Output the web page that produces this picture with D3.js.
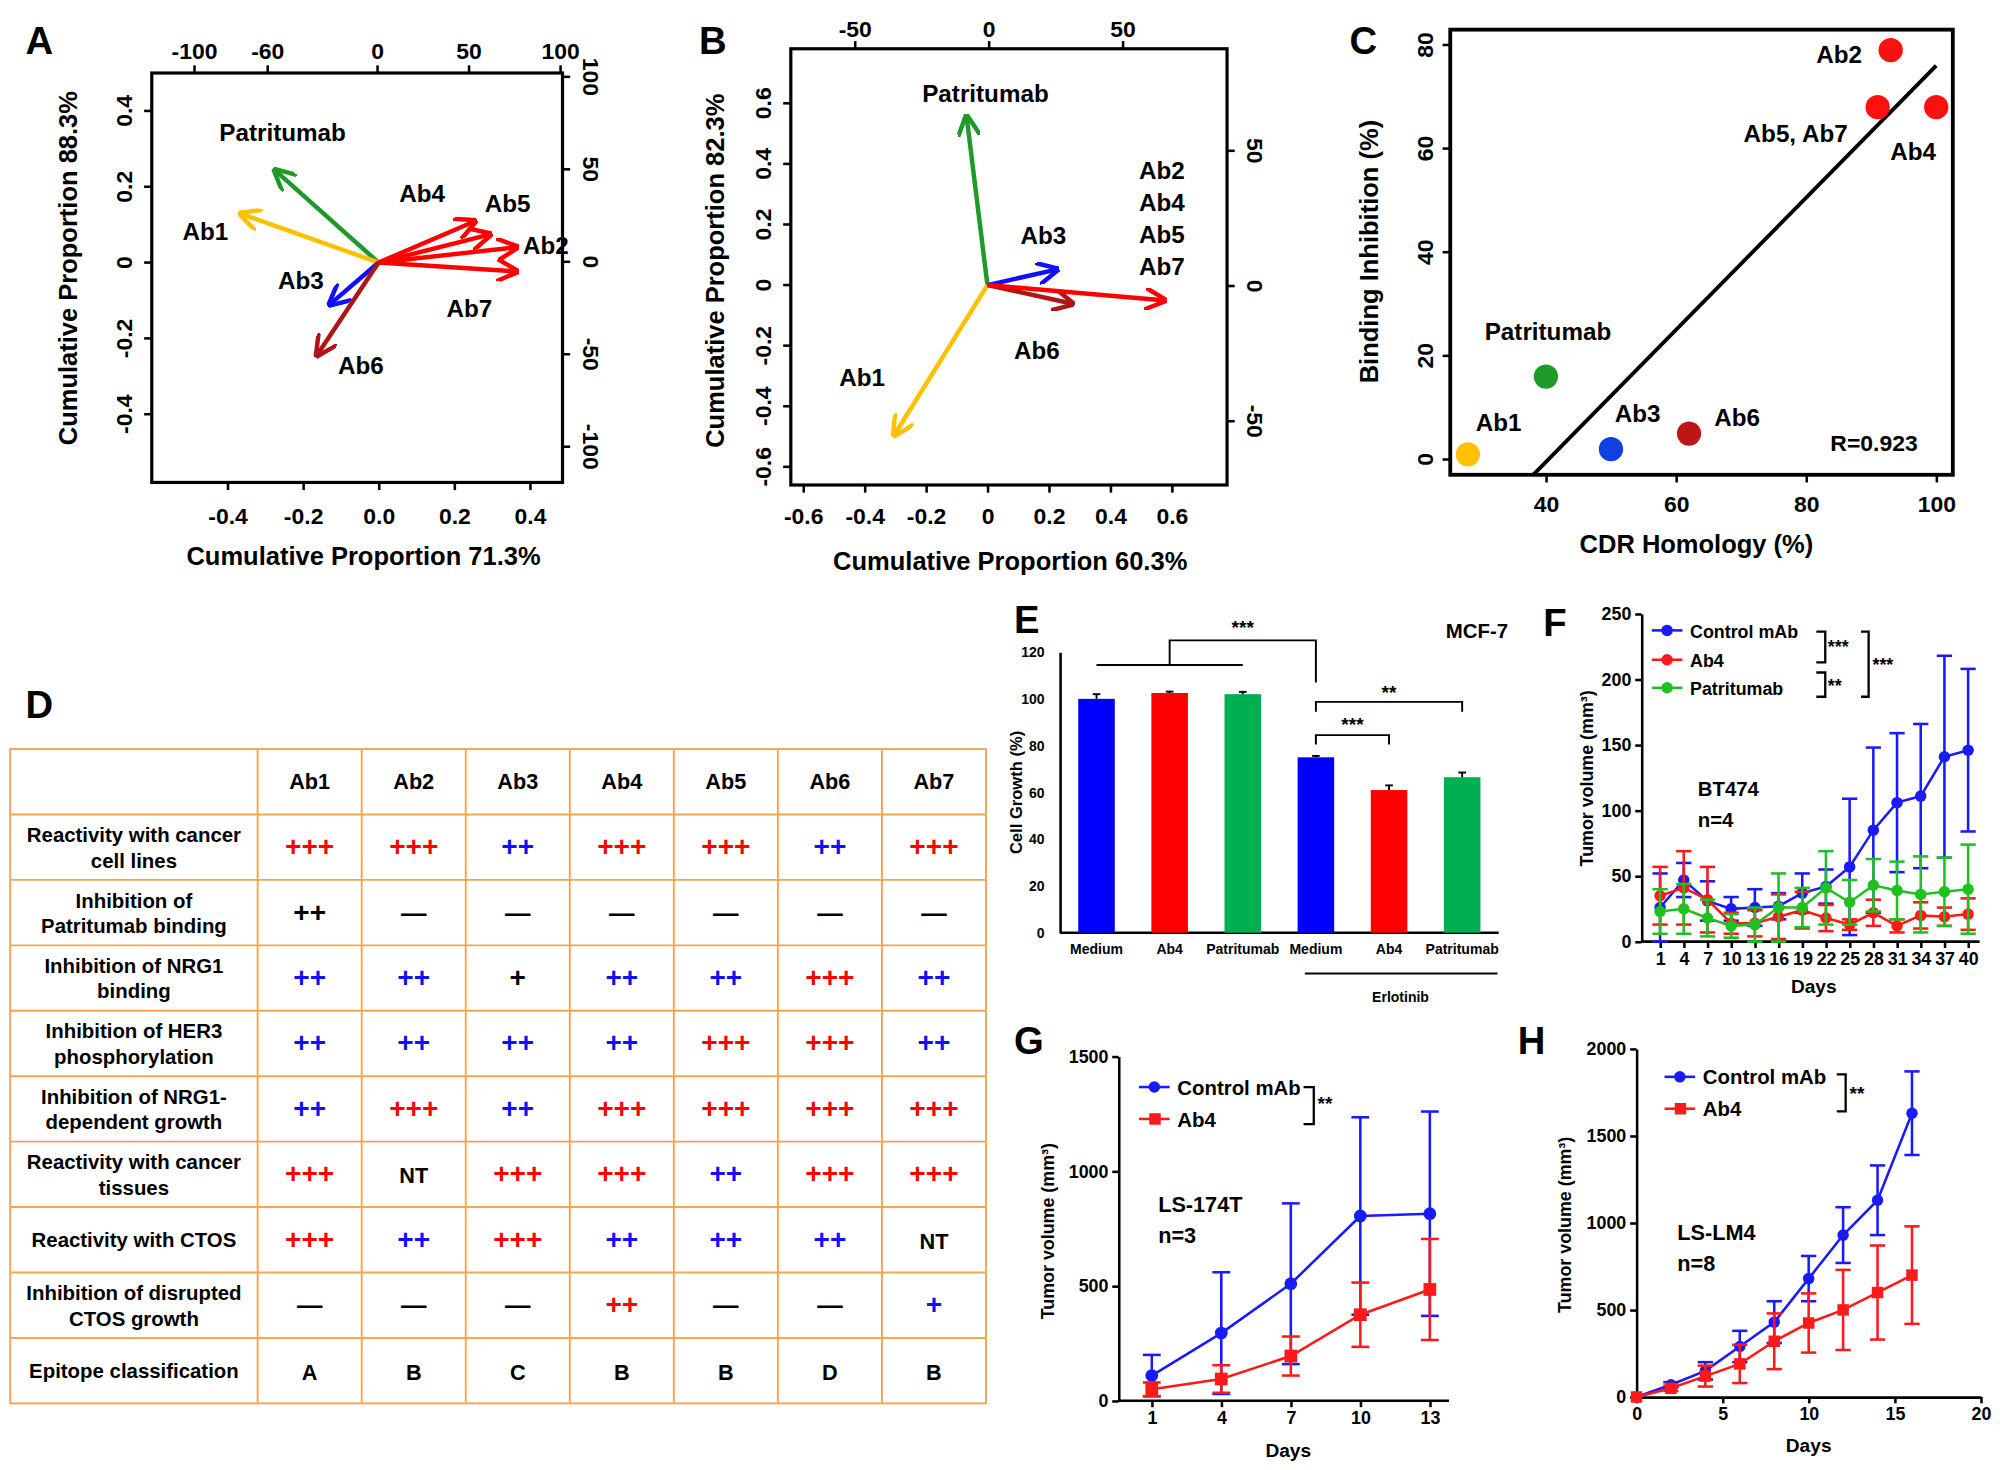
<!DOCTYPE html>
<html>
<head>
<meta charset="utf-8">
<style>
  body { margin:0; background:#fff; }
  text { font-family:"Liberation Sans", Arial, sans-serif; font-weight:bold; }
</style>
</head>
<body>
<script src="https://cdnjs.cloudflare.com/ajax/libs/d3/7.8.5/d3.min.js"></script>
<div id="vis"></div>
<script>
// ---- data ----
var pcaA = [
  {n:"Patritumab", x:-0.27, y:0.24, c:"#1f9a2a"},
  {n:"Ab1", x:-0.36, y:0.127, c:"#ffc000"},
  {n:"Ab3", x:-0.125, y:-0.107, c:"#1010ff"},
  {n:"Ab6", x:-0.16, y:-0.24, c:"#b01515"},
  {n:"Ab4", x:0.25, y:0.107, c:"#ff0000"},
  {n:"Ab5", x:0.29, y:0.073, c:"#ff0000"},
  {n:"Ab2", x:0.36, y:0.04, c:"#ff0000"},
  {n:"Ab7", x:0.36, y:-0.023, c:"#ff0000"}
];
var labelsA = [["Patritumab",172,110],["Ab1",143,188],["Ab3",218,226],["Ab6",265,293],["Ab4",313,158],["Ab5",380,166],["Ab2",410,199],["Ab7",350,248]];
var pcaB = [
  {n:"Patritumab", x:-0.067, y:0.55, c:"#1f9a2a"},
  {n:"Ab1", x:-0.3, y:-0.49, c:"#ffc000"},
  {n:"Ab3", x:0.22, y:0.05, c:"#1010ff"},
  {n:"Ab6", x:0.27, y:-0.06, c:"#b01515"},
  {n:"Ab2", x:0.57, y:-0.05, c:"#ff0000"}
];
var labelsB = [["Patritumab",723,80],["Ab1",658,302],["Ab3",800,191],["Ab6",795,281],["Ab2",893,140],["Ab4",893,165],["Ab5",893,190],["Ab7",893,215]];
var ptsC = [
  {n:"Ab1", x:28, y:1, c:"#ffc000"},
  {n:"Patritumab", x:40, y:16, c:"#1f9a2a"},
  {n:"Ab3", x:50, y:2, c:"#1040e0"},
  {n:"Ab6", x:62, y:5, c:"#c01515"},
  {n:"Ab2", x:93, y:79, c:"#ff1010"},
  {n:"Ab5, Ab7", x:91, y:68, c:"#ff1010"},
  {n:"Ab4", x:100, y:68, c:"#ff1010"}
];
var labelsC = [["Ab1",1157,338],["Patritumab",1164,266],["Ab3",1266,331],["Ab6",1344,334],["Ab2",1424,49],["Ab5, Ab7",1367,111],["Ab4",1482,125]];
var fitC = [[38,-3],[100,76]];

var tableCols = ["Ab1","Ab2","Ab3","Ab4","Ab5","Ab6","Ab7"];
var tableRows = [
  ["Reactivity with cancer|cell lines", ["+++","+++","++","+++","+++","++","+++"]],
  ["Inhibition of|Patritumab binding", ["k++","—","—","—","—","—","—"]],
  ["Inhibition of NRG1|binding", ["++","++","k+","++","++","+++","++"]],
  ["Inhibition of HER3|phosphorylation", ["++","++","++","++","+++","+++","++"]],
  ["Inhibition of  NRG1-|dependent growth", ["++","+++","++","+++","+++","+++","+++"]],
  ["Reactivity with cancer|tissues", ["+++","NT","+++","+++","++","+++","+++"]],
  ["Reactivity with CTOS", ["+++","++","+++","++","++","++","NT"]],
  ["Inhibition of disrupted|CTOS growth", ["—","—","—","r++","—","—","+"]],
  ["Epitope classification", ["A","B","C","B","B","D","B"]]
];

var eCats = ["Medium","Ab4","Patritumab","Medium","Ab4","Patritumab"];
var eVals = [100,102.5,102,75,61,66.5];
var eErr = [2,0.6,1,0.6,2,2];
var eCol = ["#0000ff","#ff0000","#00b050","#0000ff","#ff0000","#00b050"];

var fDays = [1,4,7,10,13,16,19,22,25,28,31,34,37,40];
var fCtrl = [26,47,31,25,26,27,37,42,57,85,106,111,141,146];
var fCtrlE = [26,13,15,9,14,10,15,13,52,63,53,55,77,62];
var fAb4 = [35,41,32,14,14,19,24,18,13,22,12,20,19,21];
var fAb4E = [22,28,25,8,10,17,14,10,4,10,5,10,7,12];
var fPat = [23,25,18,12,13,26,26,41,30,43,39,36,38,40];
var fPatE = [17,19,14,9,13,26,15,28,17,20,22,29,26,34];

var gDays = [1,4,7,10,13];
var gCtrl = [110,295,510,805,815];
var gCtrlE = [90,265,350,430,445];
var gAb4 = [50,95,195,375,485];
var gAb4E = [30,60,85,140,220];

var hDays = [0,2,4,6,8,10,12,14,16];
var hCtrl = [0,70,150,290,430,680,930,1130,1630];
var hCtrlE = [0,15,50,90,120,130,160,200,240];
var hAb4 = [0,50,120,190,320,425,500,600,700];
var hAb4E = [0,15,60,110,160,170,230,270,280];

// ---- svg ----
var svg = d3.select("#vis").append("svg")
  .attr("width",2000).attr("height",1470)
  .attr("viewBox","0 0 1568 1152");

var defs = svg.append("defs");
function marker(col) {
  var id = "m" + col.replace("#","");
  if (defs.select("#"+id).empty()) {
    defs.append("marker").attr("id",id).attr("viewBox","0 0 10 10")
      .attr("refX",8).attr("refY",5).attr("markerWidth",5).attr("markerHeight",5)
      .attr("orient","auto-start-reverse")
      .append("path").attr("d","M0,0 L10,5 L0,10").attr("fill","none")
      .attr("stroke",col).attr("stroke-width",2);
  }
  return "url(#"+id+")";
}
function txt(x,y,s,size,anchor) {
  return svg.append("text").attr("x",x).attr("y",y).attr("font-size",size)
    .attr("text-anchor",anchor||"start").text(s);
}
function styleAxis(g,size) {
  g.selectAll("text").attr("font-size",size).attr("font-family","Liberation Sans, Arial").attr("font-weight","bold").attr("fill","#000")
    .text(function(){ return d3.select(this).text().replace("\u2212","-"); });
  g.selectAll("line,path").attr("stroke","#000").attr("stroke-width",2);
}
var f1 = function(d){ return d===0 ? "0" : d3.format(".1f")(d); };
var fi = d3.format("d");

// panel letters
[["A",20,42],["B",548,42],["C",1058,42],["D",20,563],["E",795,496],["F",1210,498],["G",795,826],["H",1190,826]]
  .forEach(function(l){ txt(l[1],l[2],l[0],30); });

// rotated-label vertical axis helper (labels rotated like the reference)
function rotLabels(g, scale, dx, ang) {
  g.selectAll(".tick").attr("transform","translate(0,0)");
  g.selectAll(".tick line").attr("y1",function(d){return scale(d);}).attr("y2",function(d){return scale(d);});
  g.selectAll("text").each(function(d){
    d3.select(this).attr("transform","translate("+dx+","+scale(d)+") rotate("+ang+")")
      .attr("x",0).attr("y",0).attr("dy","0.35em").attr("text-anchor","middle");
  });
}

// ---- A ----
(function(){
  var x = d3.scaleLinear().domain([-0.6,0.5]).range([119,445]);
  var y = d3.scaleLinear().domain([-0.58,0.5]).range([378,57]);
  var xt = d3.scaleLinear().domain([-100,100]).range([152,439]);
  var yr = d3.scaleLinear().domain([-100,100]).range([350,60]);
  svg.append("rect").attr("x",119).attr("y",57).attr("width",322).attr("height",321)
    .attr("fill","none").attr("stroke","#000").attr("stroke-width",2.5);
  var gb = svg.append("g").attr("transform","translate(0,378)")
    .call(d3.axisBottom(x).tickValues([-0.4,-0.2,0,0.2,0.4]).tickFormat(d3.format(".1f")).tickSize(6));
  gb.select(".domain").remove(); styleAxis(gb,18);
  gb.selectAll("text").attr("dy","1.3em");
  var gl = svg.append("g").attr("transform","translate(119,0)")
    .call(d3.axisLeft(y).tickValues([-0.4,-0.2,0,0.2,0.4]).tickFormat(f1).tickSize(6));
  gl.select(".domain").remove(); styleAxis(gl,18); rotLabels(gl,y,-22,-90);
  var gt = svg.append("g").attr("transform","translate(0,57)")
    .call(d3.axisTop(xt).tickValues([-100,-60,0,50,100]).tickSize(6));
  gt.select(".domain").remove(); styleAxis(gt,18);
  gt.selectAll("text").attr("dy","-0.1em");
  var gr = svg.append("g").attr("transform","translate(441,0)")
    .call(d3.axisRight(yr).tickValues([-100,-50,0,50,100]).tickSize(6));
  gr.select(".domain").remove(); styleAxis(gr,18); rotLabels(gr,yr,22,90);
  svg.selectAll(".arrA").data(pcaA).enter().append("line")
    .attr("x1",x(0)).attr("y1",y(0)).attr("x2",function(d){return x(d.x);}).attr("y2",function(d){return y(d.y);})
    .attr("stroke",function(d){return d.c;}).attr("stroke-width",3.5)
    .attr("marker-end",function(d){return marker(d.c);});
  labelsA.forEach(function(l){ txt(l[1],l[2],l[0],19); });
  txt(285,443,"Cumulative Proportion 71.3%",20,"middle");
  txt(60,210,"Cumulative Proportion 88.3%",20,"middle").attr("transform","rotate(-90,60,210)");
})();

// ---- B ----
(function(){
  var x = d3.scaleLinear().domain([-0.64,0.78]).range([620,962]);
  var y = d3.scaleLinear().domain([-0.66,0.78]).range([380,38]);
  var xt = d3.scaleLinear().domain([-50,50]).range([670,880]);
  var yr = d3.scaleLinear().domain([-50,50]).range([330,118]);
  svg.append("rect").attr("x",620).attr("y",38).attr("width",342).attr("height",342)
    .attr("fill","none").attr("stroke","#000").attr("stroke-width",2.5);
  var gb = svg.append("g").attr("transform","translate(0,380)")
    .call(d3.axisBottom(x).tickValues([-0.6,-0.4,-0.2,0,0.2,0.4,0.6]).tickFormat(f1).tickSize(6));
  gb.select(".domain").remove(); styleAxis(gb,18); gb.selectAll("text").attr("dy","1.2em");
  var gl = svg.append("g").attr("transform","translate(620,0)")
    .call(d3.axisLeft(y).tickValues([-0.6,-0.4,-0.2,0,0.2,0.4,0.6]).tickFormat(f1).tickSize(6));
  gl.select(".domain").remove(); styleAxis(gl,18); rotLabels(gl,y,-22,-90);
  var gt = svg.append("g").attr("transform","translate(0,38)")
    .call(d3.axisTop(xt).tickValues([-50,0,50]).tickSize(6));
  gt.select(".domain").remove(); styleAxis(gt,18);
  var gr = svg.append("g").attr("transform","translate(962,0)")
    .call(d3.axisRight(yr).tickValues([-50,0,50]).tickSize(6));
  gr.select(".domain").remove(); styleAxis(gr,18); rotLabels(gr,yr,22,90);
  svg.selectAll(".arrB").data(pcaB).enter().append("line")
    .attr("x1",x(0)).attr("y1",y(0)).attr("x2",function(d){return x(d.x);}).attr("y2",function(d){return y(d.y);})
    .attr("stroke",function(d){return d.c;}).attr("stroke-width",3.5)
    .attr("marker-end",function(d){return marker(d.c);});
  labelsB.forEach(function(l){ txt(l[1],l[2],l[0],19); });
  txt(792,447,"Cumulative Proportion 60.3%",20,"middle");
  txt(568,212,"Cumulative Proportion 82.3%",20,"middle").attr("transform","rotate(-90,568,212)");
})();

// ---- C ----
(function(){
  var x = d3.scaleLinear().domain([40,100]).range([1212,1518]);
  var y = d3.scaleLinear().domain([0,80]).range([360,35]);
  svg.append("rect").attr("x",1137).attr("y",23).attr("width",394).attr("height",349)
    .attr("fill","none").attr("stroke","#000").attr("stroke-width",3);
  var gb = svg.append("g").attr("transform","translate(0,372)")
    .call(d3.axisBottom(x).tickValues([40,60,80,100]).tickSize(6));
  gb.select(".domain").remove(); styleAxis(gb,18); gb.selectAll("text").attr("dy","1.1em");
  var gl = svg.append("g").attr("transform","translate(1137,0)")
    .call(d3.axisLeft(y).tickValues([0,20,40,60,80]).tickSize(6));
  gl.select(".domain").remove(); styleAxis(gl,18); rotLabels(gl,y,-20,-90);
  svg.append("line").attr("x1",x(fitC[0][0])).attr("y1",y(fitC[0][1])).attr("x2",x(fitC[1][0])).attr("y2",y(fitC[1][1]))
    .attr("stroke","#000").attr("stroke-width",3);
  svg.selectAll(".ptC").data(ptsC).enter().append("circle")
    .attr("cx",function(d){return x(d.x);}).attr("cy",function(d){return y(d.y);}).attr("r",9.5)
    .attr("fill",function(d){return d.c;});
  labelsC.forEach(function(l){ txt(l[1],l[2],l[0],19); });
  txt(1435,353,"R=0.923",18);
  txt(1330,433,"CDR Homology (%)",20,"middle");
  txt(1080,197,"Binding Inhibition (%)",20,"middle").attr("transform","rotate(-90,1080,197)");
})();

// ---- D table ----
(function(){
  var x0 = 8, w0 = 194, cw = (773-202)/7, top = 587, rh = 51.3;
  var col = "#f5a550";
  var nR = tableRows.length + 1;
  svg.append("rect").attr("x",x0).attr("y",top).attr("width",765).attr("height",rh*nR)
    .attr("fill","none").attr("stroke",col).attr("stroke-width",1.5);
  d3.range(1,nR).forEach(function(i){
    svg.append("line").attr("x1",x0).attr("x2",773).attr("y1",top+i*rh).attr("y2",top+i*rh).attr("stroke",col).attr("stroke-width",1.5);
  });
  d3.range(0,7).forEach(function(j){
    var xx = 202 + j*cw;
    svg.append("line").attr("x1",xx).attr("x2",xx).attr("y1",top).attr("y2",top+rh*nR).attr("stroke",col).attr("stroke-width",1.5);
    txt(xx+cw/2, top+rh/2+6, tableCols[j], 17, "middle");
  });
  tableRows.forEach(function(r,i){
    var cy = top + (i+1)*rh + rh/2;
    var lines = r[0].split("|");
    lines.forEach(function(s,k){
      txt(x0+w0/2, cy + 6 + (k - (lines.length-1)/2)*20, s, 16, "middle");
    });
    r[1].forEach(function(v,j){
      var s = v, c;
      if (v[0]==="k") { s=v.slice(1); c="#000"; }
      else if (v[0]==="r") { s=v.slice(1); c="#ff0000"; }
      else if (v==="+++") c="#ff0000";
      else if (v==="++" || v==="+") c="#1010ff";
      else c="#000";
      var t = txt(202+j*cw+cw/2, cy+7, s, s.indexOf("+")>=0?22:17, "middle").attr("fill",c);
      if (s==="—") t.attr("font-size",20).attr("font-weight","normal");
    });
  });
})();

// ---- E ----
(function(){
  var x = d3.scaleBand().domain(d3.range(6)).range([831,1175]).paddingInner(0.5).paddingOuter(0.25);
  var y = d3.scaleLinear().domain([0,120]).range([731,511]);
  var gl = svg.append("g").attr("transform","translate(831,0)")
    .call(d3.axisLeft(y).tickValues([0,20,40,60,80,100,120]).tickSize(0).tickPadding(12));
  styleAxis(gl,11);
  svg.append("line").attr("x1",831).attr("x2",1175).attr("y1",731).attr("y2",731).attr("stroke","#000").attr("stroke-width",2);
  svg.selectAll(".barE").data(eVals).enter().append("rect")
    .attr("x",function(d,i){return x(i);}).attr("width",x.bandwidth())
    .attr("y",function(d){return y(d);}).attr("height",function(d){return y(0)-y(d);})
    .attr("fill",function(d,i){return eCol[i];});
  eVals.forEach(function(v,i){
    var cx = x(i)+x.bandwidth()/2;
    svg.append("line").attr("x1",cx).attr("x2",cx).attr("y1",y(v)).attr("y2",y(v+eErr[i])).attr("stroke","#000").attr("stroke-width",1.5);
    svg.append("line").attr("x1",cx-3).attr("x2",cx+3).attr("y1",y(v+eErr[i])).attr("y2",y(v+eErr[i])).attr("stroke","#000").attr("stroke-width",1.5);
    txt(cx,748,eCats[i],11,"middle");
  });
  var c = function(i){return x(i)+x.bandwidth()/2;};
  var br = function(pts){ svg.append("path").attr("d",d3.line()(pts)).attr("fill","none").attr("stroke","#000").attr("stroke-width",1.5); };
  br([[c(0),y(114.5)],[c(2),y(114.5)]]);
  br([[c(1),y(114.5)],[c(1),y(125)],[c(3),y(125)],[c(3),y(107)]]);
  txt(c(1)+(c(3)-c(1))/2,497,"***",15,"middle");
  br([[c(3),y(94.5)],[c(3),y(98.7)],[c(5),y(98.7)],[c(5),y(94.5)]]);
  txt((c(3)+c(5))/2,548,"**",15,"middle");
  br([[c(3),y(80.5)],[c(3),y(84.5)],[c(4),y(84.5)],[c(4),y(80.5)]]);
  txt((c(3)+c(4))/2,573,"***",15,"middle");
  br([[1023,763],[1174,763]]);
  txt(1098,785,"Erlotinib",11,"middle");
  txt(1158,500,"MCF-7",16,"middle");
  txt(801,621,"Cell Growth (%)",13,"middle").attr("transform","rotate(-90,801,621)");
})();

// line chart helper
function lineChart(o) {
  var x = o.x, y = o.y;
  o.series.forEach(function(s){
    s.v.forEach(function(v,i){
      var cx = x(o.days[i]), e = s.e[i];
      if (e<=0) return;
      var lo = Math.max(0, v-e);
      svg.append("line").attr("x1",cx).attr("x2",cx).attr("y1",y(lo)).attr("y2",y(v+e)).attr("stroke",s.c).attr("stroke-width",o.ew);
      [lo, v+e].forEach(function(yy){
        svg.append("line").attr("x1",cx-o.cap).attr("x2",cx+o.cap).attr("y1",y(yy)).attr("y2",y(yy)).attr("stroke",s.c).attr("stroke-width",o.ew);
      });
    });
    svg.append("path").datum(s.v)
      .attr("d",d3.line().x(function(d,i){return x(o.days[i]);}).y(function(d){return y(d);}))
      .attr("fill","none").attr("stroke",s.c).attr("stroke-width",o.lw);
    svg.selectAll(null).data(s.v).enter().append(s.shape==="sq"?"rect":"circle")
      .each(function(d,i){
        var el = d3.select(this);
        if (s.shape==="sq") el.attr("x",x(o.days[i])-o.r).attr("y",y(d)-o.r).attr("width",2*o.r).attr("height",2*o.r);
        else el.attr("cx",x(o.days[i])).attr("cy",y(d)).attr("r",o.r);
      }).attr("fill",s.c);
  });
}
function legendItem(x,y,col,label,size,shape) {
  svg.append("line").attr("x1",x).attr("x2",x+24).attr("y1",y).attr("y2",y).attr("stroke",col).attr("stroke-width",2);
  if (shape==="sq") svg.append("rect").attr("x",x+8).attr("y",y-4.5).attr("width",9).attr("height",9).attr("fill",col);
  else svg.append("circle").attr("cx",x+12).attr("cy",y).attr("r",4.5).attr("fill",col);
  txt(x+30,y+6,label,size);
}
function bracket(pts){ svg.append("path").attr("d",d3.line()(pts)).attr("fill","none").attr("stroke","#000").attr("stroke-width",1.8); }

// ---- F ----
(function(){
  var x = d3.scaleLinear().domain([1,40]).range([1301.5,1543]);
  var y = d3.scaleLinear().domain([0,250]).range([738,481]);
  var gl = svg.append("g").attr("transform","translate(1287,0)")
    .call(d3.axisLeft(y).tickValues([0,50,100,150,200,250]).tickSize(5).tickSizeOuter(0));
  styleAxis(gl,14);
  var gb = svg.append("g").attr("transform","translate(0,738)")
    .call(d3.axisBottom(x).tickValues(fDays).tickSize(5).tickSizeOuter(0));
  styleAxis(gb,14);
  gb.select(".domain").attr("d","M1287,0H1552");
  lineChart({x:x,y:y,days:fDays,r:4.5,cap:6,ew:2,lw:2,series:[
    {v:fCtrl,e:fCtrlE,c:"#1a1aff"},{v:fAb4,e:fAb4E,c:"#ff1a1a"},{v:fPat,e:fPatE,c:"#20c020"}]});
  legendItem(1295,494,"#1a1aff","Control mAb",14);
  legendItem(1295,517,"#ff1a1a","Ab4",14);
  legendItem(1295,539,"#20c020","Patritumab",14);
  bracket([[1424,495],[1431,495],[1431,519],[1424,519]]);
  bracket([[1424,527],[1431,527],[1431,546],[1424,546]]);
  bracket([[1459,495],[1465,495],[1465,546],[1459,546]]);
  txt(1433,512,"***",14); txt(1433,542,"**",14); txt(1468,526,"***",14);
  txt(1331,624,"BT474",16); txt(1331,648,"n=4",16);
  txt(1422,778,"Days",15,"middle");
  txt(1249,610,"Tumor volume (mm³)",14,"middle").attr("transform","rotate(-90,1249,610)");
})();

// ---- G ----
(function(){
  var x = d3.scaleLinear().domain([1,13]).range([903,1121]);
  var y = d3.scaleLinear().domain([0,1500]).range([1098,828]);
  var gl = svg.append("g").attr("transform","translate(877,0)")
    .call(d3.axisLeft(y).tickValues([0,500,1000,1500]).tickFormat(fi).tickSize(5).tickSizeOuter(0));
  styleAxis(gl,14);
  var gb = svg.append("g").attr("transform","translate(0,1098)")
    .call(d3.axisBottom(x).tickValues(gDays).tickSize(5).tickSizeOuter(0));
  styleAxis(gb,14);
  gb.select(".domain").attr("d","M877,0H1136");
  lineChart({x:x,y:y,days:gDays,r:5,cap:7,ew:2,lw:2,series:[
    {v:gCtrl,e:gCtrlE,c:"#1a1aff"},{v:gAb4,e:gAb4E,c:"#ff1a1a",shape:"sq"}]});
  legendItem(893,852,"#1a1aff","Control mAb",16);
  legendItem(893,877,"#ff1a1a","Ab4",16,"sq");
  bracket([[1022,852],[1030,852],[1030,881],[1022,881]]);
  txt(1033,870,"**",15);
  txt(908,950,"LS-174T",17); txt(908,974,"n=3",17);
  txt(1010,1142,"Days",15,"middle");
  txt(826,965,"Tumor volume (mm³)",14,"middle").attr("transform","rotate(-90,826,965)");
})();

// ---- H ----
(function(){
  var x = d3.scaleLinear().domain([0,20]).range([1283,1553]);
  var y = d3.scaleLinear().domain([0,2000]).range([1095,822]);
  var gl = svg.append("g").attr("transform","translate(1283,0)")
    .call(d3.axisLeft(y).tickValues([0,500,1000,1500,2000]).tickFormat(fi).tickSize(5).tickSizeOuter(0));
  styleAxis(gl,14);
  var gb = svg.append("g").attr("transform","translate(0,1095)")
    .call(d3.axisBottom(x).tickValues([0,5,10,15,20]).tickSize(5).tickSizeOuter(0));
  styleAxis(gb,14);
  lineChart({x:x,y:y,days:hDays,r:4.5,cap:6,ew:2,lw:2,series:[
    {v:hCtrl,e:hCtrlE,c:"#1a1aff"},{v:hAb4,e:hAb4E,c:"#ff1a1a",shape:"sq"}]});
  legendItem(1305,844,"#1a1aff","Control mAb",16);
  legendItem(1305,869,"#ff1a1a","Ab4",16,"sq");
  bracket([[1440,842],[1447,842],[1447,871],[1440,871]]);
  txt(1450,862,"**",15);
  txt(1315,972,"LS-LM4",17); txt(1315,996,"n=8",17);
  txt(1418,1138,"Days",15,"middle");
  txt(1232,960,"Tumor volume (mm³)",14,"middle").attr("transform","rotate(-90,1232,960)");
})();
</script>
</body>
</html>
